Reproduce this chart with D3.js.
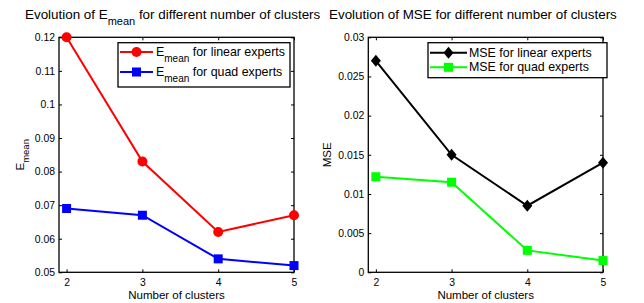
<!DOCTYPE html>
<html><head><meta charset="utf-8">
<script src="https://cdn.jsdelivr.net/npm/d3@7"></script>
<style>
body{margin:0;background:#fff;}
svg{display:block;font-family:"Liberation Sans",Arial,Helvetica,sans-serif;}
</style></head>
<body><svg id="c" width="644" height="303"></svg>
<script>
const clusters = [2, 3, 4, 5];
const xTicks = [2, 3, 4, 5];
const eLinear = [0.12, 0.083, 0.062, 0.067];
const eQuad = [0.069, 0.067, 0.054, 0.052];
const mseLinear = [0.027, 0.015, 0.0085, 0.014];
const mseQuad = [0.0122, 0.0115, 0.0028, 0.0015];
const leftYTicks = [0.05, 0.06, 0.07, 0.08, 0.09, 0.1, 0.11, 0.12];
const leftYLabels = ["0.05", "0.06", "0.07", "0.08", "0.09", "0.1", "0.11", "0.12"];
const rightYTicks = [0, 0.005, 0.01, 0.015, 0.02, 0.025, 0.03];
const rightYLabels = ["0", "0.005", "0.01", "0.015", "0.02", "0.025", "0.03"];

const svg = d3.select("#c");

function panel(opt) {
  const {x0, x1, y0, y1, ydom, yticks, ylabels, series, title, ylabel, legend} = opt;
  const x = d3.scaleLinear().domain([1.9, 5]).range([x0, x1]);
  const y = d3.scaleLinear().domain(ydom).range([y1, y0]);
  const g = svg.append("g");

  const ax = (sel) => { sel.selectAll("path.domain").remove(); sel.selectAll("line").attr("stroke", "#000"); sel.selectAll("text").attr("fill", "#000").attr("font-size", "10.4px"); };

  g.append("g").attr("transform", `translate(0,${y1})`)
    .call(d3.axisBottom(x).tickValues(xTicks).tickFormat(d3.format("d")).tickSizeInner(-3).tickSizeOuter(0).tickPadding(6)).call(ax);
  g.append("g").attr("transform", `translate(0,${y0})`)
    .call(d3.axisTop(x).tickValues(xTicks).tickFormat("").tickSizeInner(-3).tickSizeOuter(0)).call(ax);
  g.append("g").attr("transform", `translate(${x0},0)`)
    .call(d3.axisLeft(y).tickValues(yticks).tickFormat((d, i) => ylabels[i]).tickSizeInner(-3).tickSizeOuter(0).tickPadding(4)).call(ax);
  g.append("g").attr("transform", `translate(${x1},0)`)
    .call(d3.axisRight(y).tickValues(yticks).tickFormat("").tickSizeInner(-3).tickSizeOuter(0)).call(ax);

  g.append("rect").attr("x", x0).attr("y", y0).attr("width", x1 - x0).attr("height", y1 - y0)
    .attr("fill", "none").attr("stroke", "#000").attr("stroke-width", 1.3);

  series.forEach(s => {
    const line = d3.line().x((d, i) => x(clusters[i])).y(d => y(d));
    g.append("path").datum(s.values).attr("d", line).attr("fill", "none")
      .attr("stroke", s.color).attr("stroke-width", 2);
    s.values.forEach((v, i) => drawMarker(g, s.marker, x(clusters[i]), y(v), s.color));
  });

  // title
  const t = g.append("text").attr("x", title.x).attr("y", 19).attr("font-size", "13.4px").attr("fill", "#000");
  title.parts.forEach(p => {
    if (p.sub) t.append("tspan").attr("dy", 6).attr("font-size", "11px").text(p.t);
    else t.append("tspan").attr("dy", p.after ? -6 : 0).text(p.t);
  });

  // x label
  g.append("text").attr("x", (x0 + x1) / 2).attr("y", 299).attr("text-anchor", "middle")
    .attr("font-size", "11.5px").attr("fill", "#000").text("Number of clusters");

  // y label
  const yl = g.append("text").attr("transform", `translate(${ylabel.x},${(y0 + y1) / 2}) rotate(-90)`)
    .attr("text-anchor", "middle").attr("font-size", "11.5px").attr("fill", "#000");
  ylabel.parts.forEach(p => {
    if (p.sub) yl.append("tspan").attr("dy", 5).attr("font-size", "9.5px").text(p.t);
    else yl.append("tspan").text(p.t);
  });

  // legend
  const L = legend;
  g.append("rect").attr("x", L.x).attr("y", L.y).attr("width", L.w).attr("height", L.h)
    .attr("fill", "#fff").attr("stroke", "#000").attr("stroke-width", 1.3);
  L.items.forEach((it, i) => {
    const ry = L.rows[i];
    g.append("line").attr("x1", L.lx0).attr("x2", L.lx1).attr("y1", ry).attr("y2", ry)
      .attr("stroke", it.color).attr("stroke-width", 2);
    drawMarker(g, it.marker, (L.lx0 + L.lx1) / 2, ry, it.color);
    const tx = g.append("text").attr("x", L.tx).attr("y", ry + 4).attr("font-size", "12.4px").attr("fill", "#000");
    it.parts.forEach(p => {
      if (p.sub) tx.append("tspan").attr("dy", 6).attr("font-size", "10px").text(p.t);
      else tx.append("tspan").attr("dy", p.after ? -6 : 0).text(p.t);
    });
  });
}

function drawMarker(g, type, cx, cy, color) {
  if (type === "circle") g.append("circle").attr("cx", cx).attr("cy", cy).attr("r", 5).attr("fill", color);
  else if (type === "square") g.append("rect").attr("x", cx - 4.5).attr("y", cy - 4.5).attr("width", 9).attr("height", 9).attr("fill", color);
  else if (type === "diamond") g.append("path").attr("d", `M${cx},${cy - 6}L${cx + 5},${cy}L${cx},${cy + 6}L${cx - 5},${cy}Z`).attr("fill", color);
}

panel({
  x0: 59, x1: 294, y0: 37.3, y1: 272.3, ydom: [0.05, 0.12], yticks: leftYTicks, ylabels: leftYLabels,
  series: [
    {values: eLinear, color: "#ff0000", marker: "circle"},
    {values: eQuad, color: "#0000ff", marker: "square"}
  ],
  title: {x: 25, parts: [{t: "Evolution of E"}, {t: "mean", sub: true}, {t: " for different number of clusters", after: true}]},
  ylabel: {x: 24, parts: [{t: "E"}, {t: "mean", sub: true}]},
  legend: {x: 118, y: 42.7, w: 172, h: 44.3, rows: [52, 72], lx0: 120, lx1: 153, tx: 156,
    items: [
      {color: "#ff0000", marker: "circle", parts: [{t: "E"}, {t: "mean", sub: true}, {t: " for linear experts", after: true}]},
      {color: "#0000ff", marker: "square", parts: [{t: "E"}, {t: "mean", sub: true}, {t: " for quad experts", after: true}]}
    ]}
});

panel({
  x0: 368.3, x1: 603, y0: 37.3, y1: 272.3, ydom: [0, 0.03], yticks: rightYTicks, ylabels: rightYLabels,
  series: [
    {values: mseLinear, color: "#000000", marker: "diamond"},
    {values: mseQuad, color: "#00ff00", marker: "square"}
  ],
  title: {x: 329, parts: [{t: "Evolution of MSE for different number of clusters"}]},
  ylabel: {x: 331, parts: [{t: "MSE"}]},
  legend: {x: 428, y: 42.7, w: 179, h: 35, rows: [52.7, 67.3], lx0: 430, lx1: 467, tx: 469,
    items: [
      {color: "#000000", marker: "diamond", parts: [{t: "MSE for linear experts"}]},
      {color: "#00ff00", marker: "square", parts: [{t: "MSE for quad experts"}]}
    ]}
});
</script></body></html>
